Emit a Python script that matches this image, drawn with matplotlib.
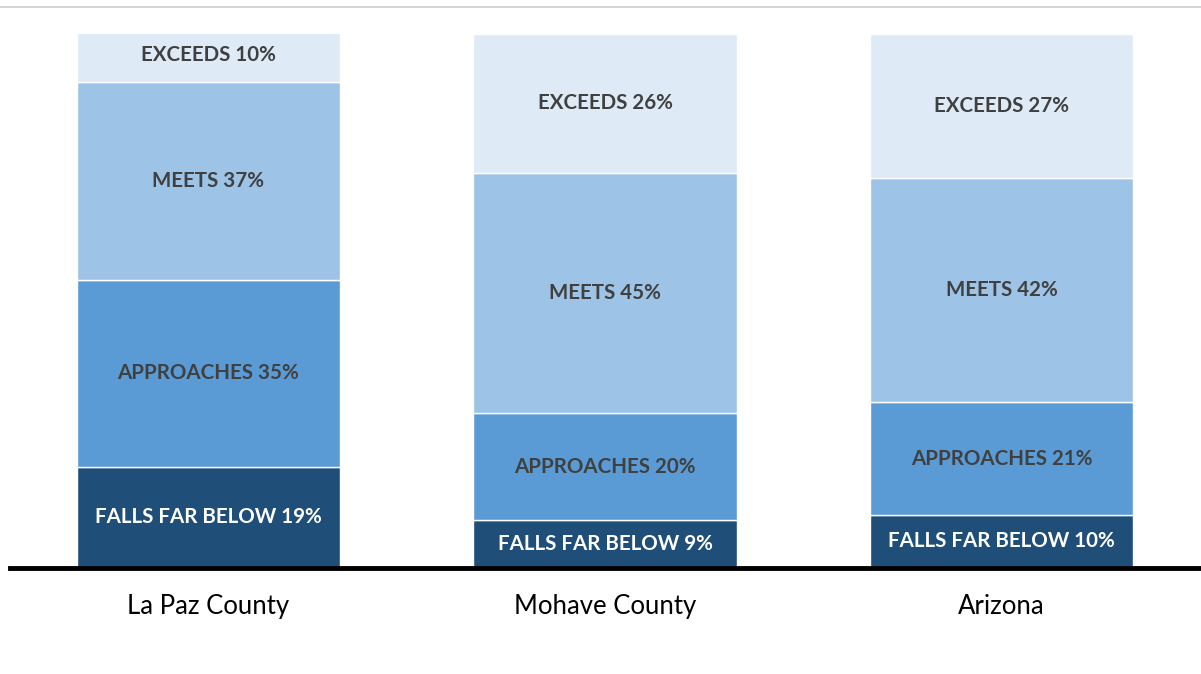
import matplotlib
matplotlib.use("Agg")
import matplotlib.pyplot as plt
from matplotlib.lines import Line2D

categories = ["La Paz County", "Mohave County", "Arizona"]
levels = ["FALLS FAR BELOW", "APPROACHES", "MEETS", "EXCEEDS"]
falls_far_below = [19, 9, 10]
approaches = [35, 20, 21]
meets = [37, 45, 42]
exceeds = [10, 26, 27]

series = [falls_far_below, approaches, meets, exceeds]
colors = ["#1F4E79", "#5B9BD5", "#9DC3E6", "#DEEBF7"]
text_colors = ["white", "#404040", "#404040", "#404040"]

fig = plt.figure(figsize=(12.01, 6.74), dpi=100)
ax = fig.add_axes([10/1201, 106/674, 1190/1201, 534/674])

x = list(range(len(categories)))
bottoms = [0] * len(categories)
for vals, col, tcol, name in zip(series, colors, text_colors, levels):
    ax.bar(x, vals, bottom=bottoms, width=0.664, color=col, edgecolor="white", linewidth=1)
    for xi, v, b in zip(x, vals, bottoms):
        ax.text(xi, b + v / 2, f"{name} {v}%", ha="center", va="center",
                color=tcol, fontsize=14.8, fontweight="bold", family="Lato")
    bottoms = [b + v for b, v in zip(bottoms, vals)]

ax.set_xlim(-0.5, 2.5)
ax.set_ylim(0, 100)
ax.set_xticks(x)
ax.set_xticklabels(categories, fontsize=18.5, family="Lato", color="black")
ax.tick_params(axis="x", length=0, pad=19)
ax.set_yticks([])
for s in ["top", "right", "left"]:
    ax.spines[s].set_visible(False)
ax.spines["bottom"].set_linewidth(3.5)
ax.spines["bottom"].set_color("black")

fig.add_artist(Line2D([0, 1], [1 - 7/674, 1 - 7/674], color="#CCCCCC", lw=1.2,
                      transform=fig.transFigure))

fig.savefig("out.png", dpi=100)
